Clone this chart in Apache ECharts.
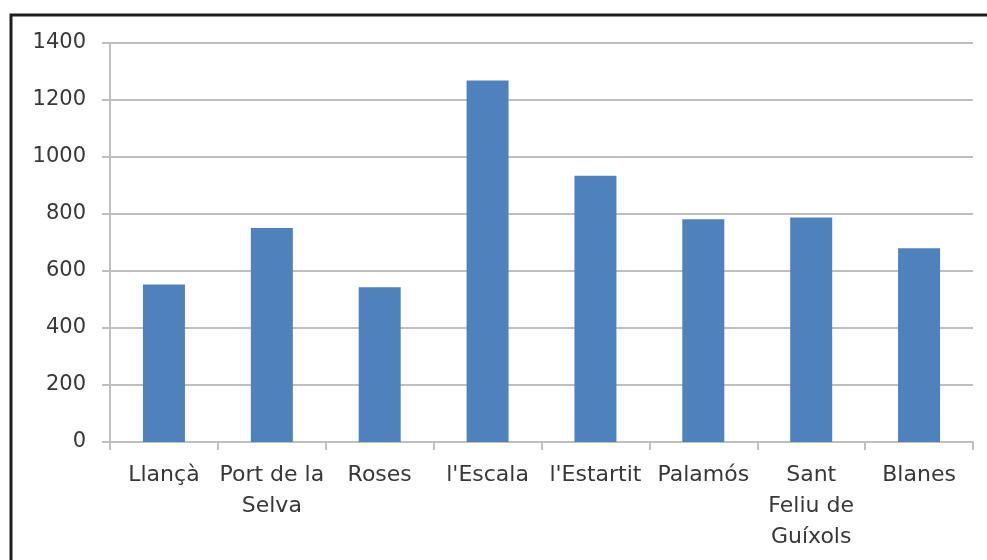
<!DOCTYPE html>
<html>
<head>
<meta charset="utf-8">
<script src="https://cdn.jsdelivr.net/npm/echarts@6/dist/echarts.min.js"></script>
<style>
  html, body { margin: 0; padding: 0; background: #ffffff; }
  #chart { width: 987px; height: 560px; }
</style>
</head>
<body>
<div id="chart"></div>
<script>
// Ports of the Costa Brava and their values
const categories = ['Llançà', 'Port de la\nSelva', 'Roses', "l'Escala", "l'Estartit", 'Palamós', 'Sant\nFeliu de\nGuíxols', 'Blanes'];
const values = [553, 751, 543, 1268, 934, 782, 788, 680];
const yTicks = [0, 200, 400, 600, 800, 1000, 1200, 1400];

const axisGray = '#bfbfbf';
const textColor = '#383838';
const fontFamily = 'DejaVu Sans';

const chart = echarts.init(document.getElementById('chart'), null, { renderer: 'canvas' });

chart.setOption({
  animation: false,
  backgroundColor: '#ffffff',
  textStyle: { fontFamily: fontFamily },
  grid: { left: 110, right: 14, top: 43, bottom: 118, containLabel: false },
  graphic: [{
    type: 'polyline',
    shape: { points: [[11, 560], [11, 15], [987, 15]] },
    style: { stroke: '#1e1e1e', lineWidth: 3, fill: null },
    z: 10
  }],
  xAxis: {
    type: 'category',
    data: categories,
    boundaryGap: true,
    axisLine: { show: true, lineStyle: { color: axisGray, width: 2 } },
    axisTick: { show: true, alignWithLabel: false, length: 8, lineStyle: { color: axisGray, width: 2 } },
    axisLabel: {
      color: textColor,
      fontFamily: fontFamily,
      fontSize: 22,
      lineHeight: 31,
      margin: 18,
      interval: 0
    },
    splitLine: { show: false }
  },
  yAxis: {
    type: 'value',
    min: yTicks[0],
    max: yTicks[yTicks.length - 1],
    interval: 200,
    axisLine: { show: true, lineStyle: { color: axisGray, width: 2 } },
    axisTick: { show: true, length: 8, lineStyle: { color: axisGray, width: 2 } },
    axisLabel: {
      color: textColor,
      fontFamily: fontFamily,
      fontSize: 21,
      margin: 24,
      formatter: function (v) { return String(v); }
    },
    splitLine: { show: true, lineStyle: { color: axisGray, width: 2 } }
  },
  series: [{
    type: 'bar',
    data: values,
    barWidth: 42,
    itemStyle: { color: '#4f81bd' }
  }]
});
</script>
</body>
</html>
